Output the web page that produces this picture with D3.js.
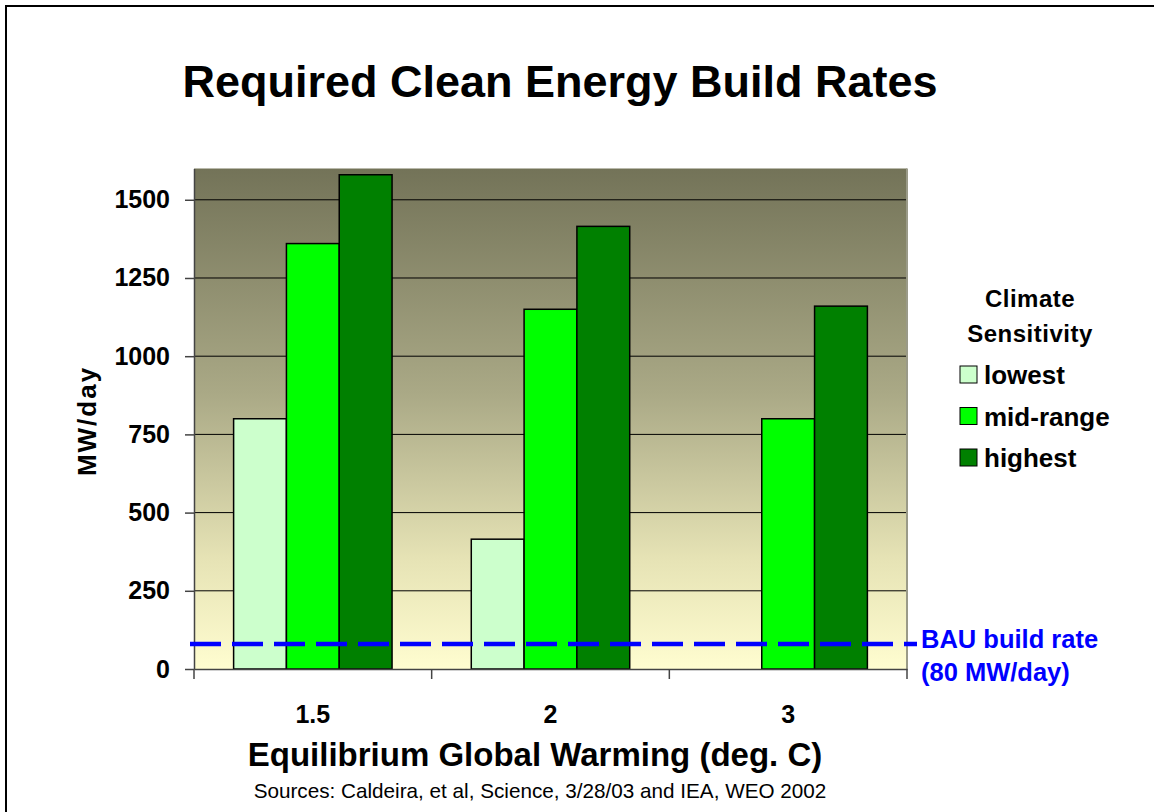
<!DOCTYPE html>
<html>
<head>
<meta charset="utf-8">
<script src="https://cdn.jsdelivr.net/npm/d3@7"></script>
<style>
  body { margin: 0; background: #fff; }
  svg { font-family: "Liberation Sans", Arial, sans-serif; }
</style>
</head>
<body>
<div id="chart"></div>
<script>
// Data
const categories = ["1.5", "2", "3"];
const series = ["lowest", "mid-range", "highest"];
const lowest = [800, 415, 0];
const midRange = [1360, 1150, 800];
const highest = [1580, 1415, 1160];
const yTicks = [0, 250, 500, 750, 1000, 1250, 1500];
const bauRate = 80;

const colors = { "lowest": "#ccffcc", "mid-range": "#00ff00", "highest": "#008000" };

const data = categories.map((c, i) => ({
    cat: c,
    values: [
        { key: "lowest", value: lowest[i] },
        { key: "mid-range", value: midRange[i] },
        { key: "highest", value: highest[i] }
    ]
}));

const W = 1154, H = 812;
const plot = { left: 194, right: 907, top: 168.5, bottom: 669 };

const svg = d3.select("#chart").append("svg")
    .attr("width", W)
    .attr("height", H);

// outer frame
svg.append("rect")
    .attr("x", 6).attr("y", 6)
    .attr("width", W + 20).attr("height", H + 20)
    .attr("fill", "none")
    .attr("stroke", "#000")
    .attr("stroke-width", 2);

// scales
const x0 = d3.scaleBand()
    .domain(categories)
    .range([plot.left, plot.right])
    .padding(0);

const x1 = d3.scaleBand()
    .domain(series)
    .range([0, x0.bandwidth()])
    .paddingInner(0)
    .paddingOuter(0.75);

const y = d3.scaleLinear()
    .domain([0, 1600])
    .range([plot.bottom, plot.top]);

// background gradient
const grad = svg.append("defs").append("linearGradient")
    .attr("id", "bg")
    .attr("x1", 0).attr("y1", 0).attr("x2", 0).attr("y2", 1);
grad.append("stop").attr("offset", "0%").attr("stop-color", "#737358");
grad.append("stop").attr("offset", "45%").attr("stop-color", "#aaa986");
grad.append("stop").attr("offset", "78%").attr("stop-color", "#e6e3b5");
grad.append("stop").attr("offset", "100%").attr("stop-color", "#fffdd0");

svg.append("rect")
    .attr("x", plot.left).attr("y", plot.top)
    .attr("width", plot.right - plot.left)
    .attr("height", plot.bottom - plot.top)
    .attr("fill", "url(#bg)");

// gridlines
svg.append("g")
    .selectAll("line")
    .data(yTicks.filter(d => d > 0))
    .join("line")
    .attr("x1", plot.left).attr("x2", plot.right)
    .attr("y1", d => y(d)).attr("y2", d => y(d))
    .attr("stroke", "#000")
    .attr("stroke-width", 1);

// right plot border
svg.append("line")
    .attr("x1", plot.right).attr("x2", plot.right)
    .attr("y1", plot.top).attr("y2", plot.bottom)
    .attr("stroke", "#9a9a88")
    .attr("stroke-width", 2);

// bars
const groups = svg.append("g")
    .selectAll("g")
    .data(data)
    .join("g")
    .attr("transform", d => `translate(${x0(d.cat)},0)`);

groups.selectAll("rect")
    .data(d => d.values.filter(v => v.value > 0))
    .join("rect")
    .attr("x", d => x1(d.key))
    .attr("y", d => y(d.value))
    .attr("width", x1.bandwidth())
    .attr("height", d => y(0) - y(d.value))
    .attr("fill", d => colors[d.key])
    .attr("stroke", "#000")
    .attr("stroke-width", 1.5);

// y axis
const yAxis = svg.append("g")
    .attr("transform", `translate(${plot.left},0)`)
    .call(d3.axisLeft(y).tickValues(yTicks).tickFormat(d3.format("d"))
        .tickSize(9).tickSizeOuter(0).tickPadding(15));
yAxis.select(".domain").attr("stroke", "#444").attr("stroke-width", 1.5);
yAxis.selectAll(".tick line").attr("stroke", "#444").attr("stroke-width", 1.5);
yAxis.selectAll(".tick text")
    .attr("font-size", 25)
    .attr("font-weight", "bold")
    .attr("fill", "#000");

// x axis
const xAxis = svg.append("g")
    .attr("transform", `translate(0,${plot.bottom})`)
    .call(d3.axisBottom(x0).tickSize(0).tickPadding(36));
xAxis.select(".domain").attr("stroke", "#444").attr("stroke-width", 1.5);
xAxis.selectAll(".tick text")
    .attr("font-size", 25)
    .attr("font-weight", "bold")
    .attr("fill", "#000");

// category boundary ticks
svg.append("g")
    .selectAll("line")
    .data(categories.concat(["end"]))
    .join("line")
    .attr("x1", (d, i) => i < categories.length ? x0(d) : plot.right)
    .attr("x2", (d, i) => i < categories.length ? x0(d) : plot.right)
    .attr("y1", plot.bottom)
    .attr("y2", plot.bottom + 10)
    .attr("stroke", "#444")
    .attr("stroke-width", 1.5);

// BAU line
svg.append("line")
    .attr("x1", 190).attr("x2", 917)
    .attr("y1", y(bauRate)).attr("y2", y(bauRate))
    .attr("stroke", "#0000ff")
    .attr("stroke-width", 4.5)
    .attr("stroke-dasharray", "31,11");

svg.append("text")
    .attr("x", 921).attr("y", y(bauRate) + 4)
    .attr("font-size", 25.5)
    .attr("font-weight", "bold")
    .attr("fill", "#0000ff")
    .text("BAU build rate");
svg.append("text")
    .attr("x", 921).attr("y", y(bauRate) + 37)
    .attr("font-size", 25.5)
    .attr("font-weight", "bold")
    .attr("fill", "#0000ff")
    .text("(80 MW/day)");

// title
svg.append("text")
    .attr("x", 560).attr("y", 97)
    .attr("text-anchor", "middle")
    .attr("font-size", 45)
    .attr("font-weight", "bold")
    .text("Required Clean Energy Build Rates");

// axis titles
svg.append("text")
    .attr("transform", "translate(96,421) rotate(-90)")
    .attr("text-anchor", "middle")
    .attr("font-size", 26)
    .attr("font-weight", "bold")
    .attr("letter-spacing", 2)
    .text("MW/day");

svg.append("text")
    .attr("x", 535).attr("y", 766)
    .attr("text-anchor", "middle")
    .attr("font-size", 33)
    .attr("font-weight", "bold")
    .text("Equilibrium Global Warming (deg. C)");

svg.append("text")
    .attr("x", 540).attr("y", 798)
    .attr("text-anchor", "middle")
    .attr("font-size", 20.7)
    .text("Sources: Caldeira, et al, Science, 3/28/03 and IEA, WEO 2002");

// legend
const legend = svg.append("g");
legend.append("text")
    .attr("x", 1030).attr("y", 307)
    .attr("text-anchor", "middle")
    .attr("font-size", 24)
    .attr("font-weight", "bold")
    .attr("letter-spacing", 0.5)
    .text("Climate");
legend.append("text")
    .attr("x", 1030).attr("y", 342)
    .attr("text-anchor", "middle")
    .attr("font-size", 24)
    .attr("font-weight", "bold")
    .attr("letter-spacing", 0.5)
    .text("Sensitivity");

const items = legend.selectAll("g.item")
    .data(series)
    .join("g")
    .attr("class", "item")
    .attr("transform", (d, i) => `translate(960,${366 + i * 41.5})`);
items.append("rect")
    .attr("width", 17).attr("height", 17)
    .attr("fill", d => colors[d])
    .attr("stroke", "#000")
    .attr("stroke-width", 1);
items.append("text")
    .attr("x", 24).attr("y", 18)
    .attr("font-size", 26)
    .attr("font-weight", "bold")
    .text(d => d);
</script>
</body>
</html>
